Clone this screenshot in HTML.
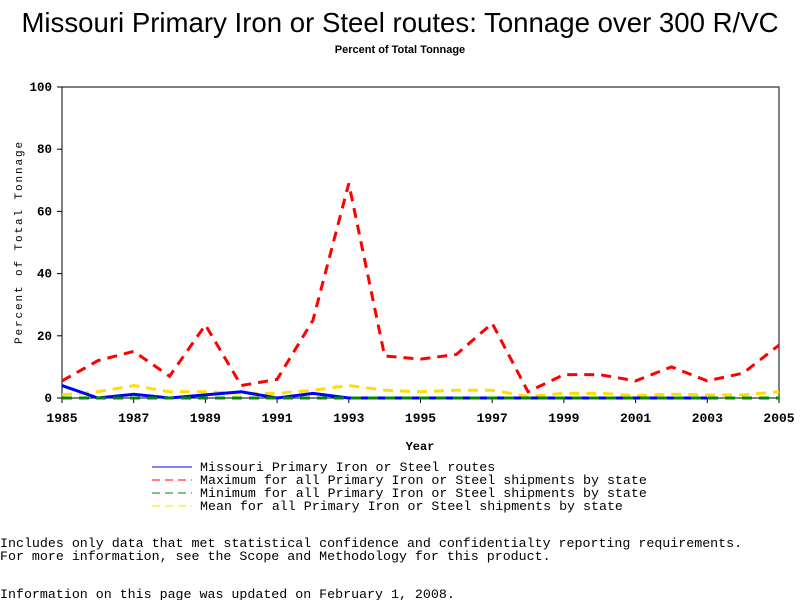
<!DOCTYPE html>
<html><head><meta charset="utf-8"><style>
body{margin:0;background:#fff;width:800px;height:600px;overflow:hidden}
</style></head><body>
<svg id="c" width="800" height="600" font-family="Liberation Sans, sans-serif">
<text x="400" y="32" text-anchor="middle" font-size="27.6" font-family="Liberation Sans, sans-serif">Missouri Primary Iron or Steel routes: Tonnage over 300 R/VC</text>
<text x="400" y="53" text-anchor="middle" font-size="11" font-weight="bold" font-family="Liberation Sans, sans-serif">Percent of Total Tonnage</text>
<rect x="62" y="87" width="717" height="311" fill="none" stroke="#000"/>
<g id="ticks"></g>
<g id="series"></g>
<text x="420" y="450" text-anchor="middle" font-size="12" font-weight="bold" font-family="Liberation Mono, monospace">Year</text>
<text transform="translate(22,242) rotate(-90)" text-anchor="middle" font-size="11" font-family="Liberation Mono, monospace" letter-spacing="1.9">Percent of Total Tonnage</text>
<g font-family="Liberation Mono, monospace" font-size="13.3">
<line x1="152" y1="467" x2="192" y2="467" stroke="#00f"/>
<text x="200" y="471">Missouri Primary Iron or Steel routes</text>
<line x1="152" y1="480" x2="192" y2="480" stroke="#f00" stroke-dasharray="8,5"/>
<text x="200" y="484">Maximum for all Primary Iron or Steel shipments by state</text>
<line x1="152" y1="493" x2="192" y2="493" stroke="#080" stroke-dasharray="8,5"/>
<text x="200" y="497">Minimum for all Primary Iron or Steel shipments by state</text>
<line x1="152" y1="506" x2="192" y2="506" stroke="#fd0" stroke-dasharray="8,5"/>
<text x="200" y="510">Mean for all Primary Iron or Steel shipments by state</text>
</g>
<g font-family="Liberation Mono, monospace" font-size="13.3">
<text x="0" y="547">Includes only data that met statistical confidence and confidentialty reporting requirements.</text>
<text x="0" y="560">For more information, see the Scope and Methodology for this product.</text>
<text x="0" y="598">Information on this page was updated on February 1, 2008.</text>
</g>
</svg>
<script>
const years=[1985,1986,1987,1988,1989,1990,1991,1992,1993,1994,1995,1996,1997,1998,1999,2000,2001,2002,2003,2004,2005];
const maxVals=[5.5,12,15,7,23.5,4,6,25,69,13.5,12.5,14,24,2,7.5,7.5,5.5,10,5.5,8,17];
const meanVals=[1,2,4,2,2,1.5,1.5,2.5,4,2.5,2,2.5,2.5,0.5,1.5,1.5,0.8,1.2,1,1,2];
const minVals=[0,0,0,0,0,0,0,0,0,0,0,0,0,0,0,0,0,0,0,0,0];
const moVals=[4,0,1.2,0,1,2,0,1.5,0,0,0,0,0,0,0,0,0,0,0,null,null];
const xTicks=[1985,1987,1989,1991,1993,1995,1997,1999,2001,2003,2005];
const yTicks=[0,20,40,60,80,100];
const X=v=>62+(v-1985)/20*717, Y=v=>398-v/100*311;
const NS="http://www.w3.org/2000/svg";
const tg=document.getElementById('ticks'), sg=document.getElementById('series');
function mk(tag,attrs,parent){const e=document.createElementNS(NS,tag);for(const k in attrs)e.setAttribute(k,attrs[k]);parent.appendChild(e);return e;}
yTicks.forEach(v=>{
 const l=mk('line',{x1:57,x2:62,y1:Y(v),y2:Y(v),stroke:'#000'},tg);
 
 
 const t=mk('text',{x:52,y:Y(v)+4,'text-anchor':'end','font-size':12.5,'font-weight':'bold','font-family':'Liberation Mono, monospace'},tg);
 t.textContent=v;
 
 
});
xTicks.forEach(v=>{
 const l=mk('line',{x1:X(v),x2:X(v),y1:398,y2:403,stroke:'#000'},tg);
 
 
 const t=mk('text',{x:X(v),y:422,'text-anchor':'middle','font-size':13,'font-weight':'bold','font-family':'Liberation Mono, monospace'},tg);
 t.textContent=v;
 
 
});
function line(vals,color,dash,w,name){
 const pts=[];vals.forEach((v,i)=>{if(v!==null)pts.push(X(years[i])+','+Y(v));});
 const p=mk('polyline',{points:pts.join(' '),fill:'none',stroke:color,'stroke-width':w,'stroke-dasharray':dash},sg);
 
 
}
line(maxVals,'#f00','10,7',3,'series-max');
line(meanVals,'#fd0','10,7',3,'series-mean');
line(moVals,'#00f','none',3,'series-missouri');
line(minVals,'#080','10,7',3,'series-min');
</script>
</body></html>
